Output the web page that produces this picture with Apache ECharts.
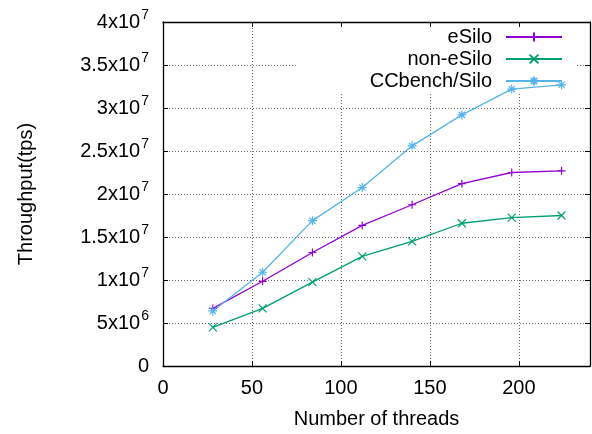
<!DOCTYPE html>
<html>
<head>
<meta charset="utf-8">
<script src="https://cdn.jsdelivr.net/npm/echarts@6/dist/echarts.min.js"></script>
<style>
  html, body { margin: 0; padding: 0; background: #fff; }
  #mychart { width: 592px; height: 434px; }
</style>
</head>
<body>
<div id="mychart"></div>
<script>
// 线程数
var threads = [28, 56, 84, 112, 140, 168, 196, 224];
var seriesNames = ['eSilo', 'non-eSilo', 'CCbench/Silo'];
var eSilo = [6.7e6, 9.85e6, 1.32e7, 1.635e7, 1.875e7, 2.12e7, 2.25e7, 2.27e7];
var nonESilo = [4.5e6, 6.7e6, 9.75e6, 1.275e7, 1.45e7, 1.66e7, 1.725e7, 1.75e7];
var ccbench = [6.4e6, 1.09e7, 1.69e7, 2.075e7, 2.56e7, 2.92e7, 3.22e7, 3.27e7];
var xTicks = [0, 50, 100, 150, 200];
var yTicks = [0, 5e6, 1e7, 1.5e7, 2e7, 2.5e7, 3e7, 3.5e7, 4e7];

var colors = ['#9400d3', '#009e73', '#56b4e9'];
var symbols = [
    'path://M0,5L10,5M5,0L5,10',
    'path://M0,0L10,10M0,10L10,0',
    'path://M0,5L10,5M5,0L5,10M1.5,1.5L8.5,8.5M1.5,8.5L8.5,1.5'
];
var FONT = 'Liberation Sans';

function pairs(ys) {
    var out = [];
    for (var i = 0; i < threads.length; i++) {
        out.push([threads[i], ys[i]]);
    }
    return out;
}

//y轴科学计数法标签
function sciLabel(v) {
    if (v === 0) return '{b|0}';
    var exp = Math.floor(Math.log10(v) + 1e-9);
    var m = v / Math.pow(10, exp);
    m = Math.round(m * 10) / 10;
    return '{b|' + m + 'x10}{s|' + exp + '}';
}

var myChart = echarts.init(document.getElementById('mychart'), null, { renderer: 'canvas' });

var dataSets = [eSilo, nonESilo, ccbench];
var series = dataSets.map(function (d, i) {
    return {
        name: seriesNames[i],
        type: 'line',
        xAxisIndex: 0,
        yAxisIndex: 0,
        data: pairs(d),
        symbol: symbols[i],
        symbolSize: i === 2 ? 9 : 8,
        showSymbol: true,
        color: colors[i],
        lineStyle: { color: colors[i], width: 1.3 },
        itemStyle: { color: colors[i], borderColor: colors[i], borderWidth: 1.2 },
        emphasis: { disabled: true },
        animation: false,
        z: 2
    };
});

var legendTops = [27, 49, 71];
var legends = seriesNames.map(function (n, i) {
    return {
        data: [n],
        orient: 'vertical',
        align: 'right',
        right: 29,
        top: legendTops[i],
        padding: 0,
        itemWidth: 56,
        itemHeight: 11,
        selectedMode: false,
        textStyle: {
            fontFamily: FONT,
            fontSize: 20,
            color: '#000',
            lineHeight: 20,
            padding: [0, 9, 0, 0]
        }
    };
});

var splitStyle = { show: true, lineStyle: { color: '#666', type: [1, 2], width: 1 } };
var borderLine = { show: true, onZero: false, lineStyle: { color: '#000', width: 1.3 } };

var option = {
    backgroundColor: '#fff',
    animation: false,
    grid: { left: 163, top: 22, right: 2, bottom: 67, containLabel: false },
    legend: legends,
    graphic: [{
        type: 'rect',
        shape: { x: 297, y: 23, width: 280, height: 70 },
        style: { fill: '#fff' },
        z: 1,
        silent: true
    }],
    xAxis: [{
        type: 'value',
        min: 0,
        max: 240,
        interval: 50,
        position: 'bottom',
        name: 'Number of threads',
        nameLocation: 'middle',
        nameGap: 43,
        nameTextStyle: { fontFamily: FONT, fontSize: 20, color: '#000' },
        axisLine: borderLine,
        axisTick: { show: true, inside: true, length: 5, lineStyle: { color: '#000' } },
        axisLabel: {
            fontFamily: FONT, fontSize: 20, color: '#000', margin: 12,
            showMaxLabel: false,
            formatter: function (v) { return xTicks.indexOf(v) >= 0 ? String(v) : ''; }
        },
        splitLine: splitStyle
    }, {
        type: 'value',
        min: 0,
        max: 240,
        interval: 50,
        position: 'top',
        z: 5,
        axisLine: borderLine,
        axisTick: { show: true, inside: true, length: 5, lineStyle: { color: '#000' } },
        axisLabel: { show: false },
        splitLine: { show: false }
    }],
    yAxis: [{
        type: 'value',
        min: 0,
        max: 4e7,
        interval: 5e6,
        position: 'left',
        name: 'Throughput(tps)',
        nameLocation: 'middle',
        nameGap: 127,
        nameRotate: 90,
        nameTextStyle: { fontFamily: FONT, fontSize: 20, color: '#000' },
        axisLine: borderLine,
        axisTick: { show: true, inside: true, length: 5, lineStyle: { color: '#000' } },
        axisLabel: {
            margin: 14,
            color: '#000',
            formatter: function (v) { return yTicks.indexOf(v) >= 0 ? sciLabel(v) : ''; },
            rich: {
                b: { fontFamily: FONT, fontSize: 20, color: '#000', lineHeight: 27, verticalAlign: 'middle' },
                s: { fontFamily: FONT, fontSize: 14, color: '#000', lineHeight: 14, verticalAlign: 'top', padding: [0, 0, 0, 1] }
            }
        },
        splitLine: splitStyle
    }, {
        type: 'value',
        min: 0,
        max: 4e7,
        interval: 5e6,
        position: 'right',
        z: 5,
        axisLine: borderLine,
        axisTick: { show: true, inside: true, length: 5, lineStyle: { color: '#000' } },
        axisLabel: { show: false },
        splitLine: { show: false }
    }],
    series: series
};

myChart.setOption(option);
</script>
</body>
</html>
